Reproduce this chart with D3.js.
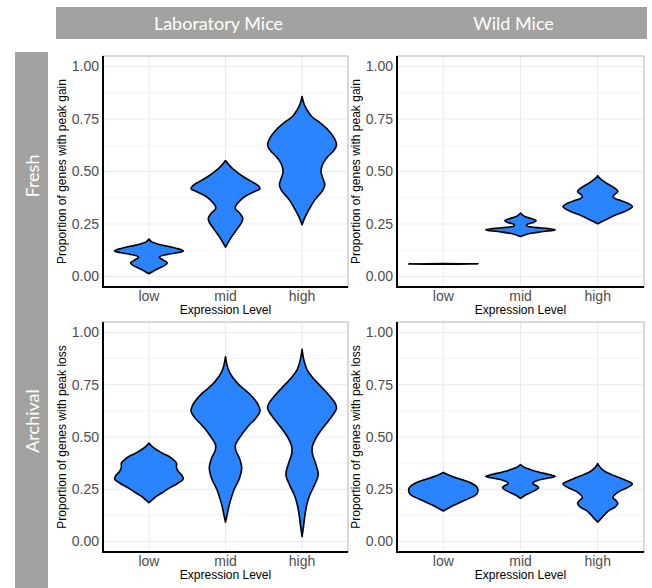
<!DOCTYPE html>
<html>
<head>
<meta charset="utf-8">
<script src="https://d3js.org/d3.v7.min.js"></script>
<style>
  body { margin: 0; background: #fff; }
  svg { display: block; }
</style>
</head>
<body>
<svg id="chart"></svg>
<script>
  // facet labels and axis text
  var categories = ['low', 'mid', 'high']
  var columns = ['Laboratory Mice', 'Wild Mice']
  var rows = ['Fresh', 'Archival']
  var yTicks = [0, 0.25, 0.5, 0.75, 1]
  var yMinor = [0.125, 0.375, 0.625, 0.875]
  var yTitles = ['Proportion of genes with peak gain', 'Proportion of genes with peak loss']
  var xTitle = 'Expression Level'

  // violin outlines: [proportion, relative half width]
  var labFreshLow = [[0.013,0],[0.032,0.2],[0.056,0.49],[0.065,0.53],[0.081,0.39],[0.092,0.3],[0.105,0.53],[0.113,0.82],[0.122,1],[0.135,0.78],[0.145,0.5],[0.155,0.25],[0.165,0.08],[0.178,0]]
  var labFreshMid = [[0.14,0],[0.16,0.07],[0.183,0.15],[0.222,0.32],[0.255,0.46],[0.278,0.5],[0.3,0.42],[0.326,0.28],[0.349,0.35],[0.381,0.56],[0.405,0.85],[0.418,1],[0.435,0.93],[0.452,0.76],[0.475,0.52],[0.492,0.37],[0.515,0.2],[0.535,0.08],[0.552,0]]
  var labFreshHigh = [[0.246,0],[0.28,0.08],[0.318,0.2],[0.365,0.37],[0.41,0.6],[0.437,0.66],[0.47,0.6],[0.5,0.55],[0.535,0.6],[0.571,0.75],[0.6,0.92],[0.627,1],[0.66,0.93],[0.699,0.75],[0.735,0.5],[0.762,0.28],[0.794,0.14],[0.825,0.05],[0.857,0]]
  var wildFreshLow = [[0.0585,0],[0.06,1],[0.0615,0]]
  var wildFreshMid = [[0.19,0],[0.198,0.12],[0.206,0.3],[0.214,0.65],[0.222,1],[0.228,0.8],[0.234,0.4],[0.241,0.18],[0.249,0.2],[0.258,0.38],[0.266,0.45],[0.275,0.32],[0.285,0.14],[0.294,0.05],[0.302,0]]
  var wildFreshHigh = [[0.251,0],[0.27,0.23],[0.294,0.53],[0.315,0.85],[0.333,1],[0.349,0.87],[0.365,0.6],[0.378,0.44],[0.39,0.48],[0.405,0.58],[0.42,0.5],[0.445,0.25],[0.465,0.08],[0.48,0]]
  var labArchLow = [[0.186,0],[0.2,0.1],[0.217,0.22],[0.237,0.42],[0.257,0.6],[0.28,0.85],[0.3,1],[0.318,0.95],[0.336,0.85],[0.355,0.8],[0.375,0.8],[0.395,0.68],[0.408,0.57],[0.42,0.42],[0.431,0.3],[0.45,0.12],[0.471,0]]
  var labArchMid = [[0.093,0],[0.13,0.05],[0.17,0.1],[0.21,0.17],[0.249,0.25],[0.3,0.4],[0.352,0.47],[0.4,0.4],[0.435,0.3],[0.463,0.29],[0.5,0.42],[0.55,0.65],[0.59,0.88],[0.622,1],[0.65,0.96],[0.678,0.85],[0.705,0.7],[0.725,0.56],[0.76,0.33],[0.805,0.13],[0.84,0.05],[0.884,0]]
  var labArchHigh = [[0.024,0],[0.07,0.04],[0.122,0.08],[0.17,0.13],[0.217,0.21],[0.27,0.36],[0.32,0.47],[0.37,0.4],[0.42,0.3],[0.455,0.3],[0.5,0.42],[0.543,0.6],[0.6,0.87],[0.638,1],[0.665,0.95],[0.686,0.85],[0.715,0.7],[0.741,0.55],[0.78,0.33],[0.82,0.15],[0.87,0.05],[0.919,0]]
  var wildArchLow = [[0.146,0],[0.17,0.26],[0.2,0.65],[0.225,0.95],[0.245,1],[0.26,0.97],[0.275,0.85],[0.284,0.75],[0.295,0.55],[0.305,0.36],[0.318,0.15],[0.331,0]]
  var wildArchMid = [[0.206,0],[0.22,0.12],[0.233,0.28],[0.245,0.42],[0.257,0.52],[0.268,0.45],[0.278,0.35],[0.295,0.55],[0.305,0.85],[0.312,1],[0.322,0.8],[0.329,0.6],[0.337,0.4],[0.344,0.28],[0.356,0.1],[0.368,0]]
  var wildArchHigh = [[0.093,0],[0.114,0.12],[0.146,0.3],[0.165,0.5],[0.182,0.58],[0.197,0.52],[0.21,0.44],[0.225,0.5],[0.241,0.63],[0.26,0.88],[0.276,1],[0.29,0.85],[0.305,0.63],[0.32,0.4],[0.336,0.2],[0.355,0.07],[0.373,0]]

  var violins = [
    [[labFreshLow, labFreshMid, labFreshHigh], [wildFreshLow, wildFreshMid, wildFreshHigh]],
    [[labArchLow, labArchMid, labArchHigh], [wildArchLow, wildArchMid, wildArchHigh]]
  ]

  var width = 652, height = 588
  var colX = [[103, 348], [397, 644]]
  var rowY = [[56, 287], [322, 552]]
  var fill = '#2b84ff'
  var stripGrey = '#a3a2a0'

  var svg = d3.select('#chart').attr('width', width).attr('height', height)

  // strips
  svg.append('rect').attr('x', 56).attr('y', 7).attr('width', 591).attr('height', 32).attr('fill', stripGrey)
  svg.append('rect').attr('x', 15).attr('y', 52).attr('width', 33).attr('height', 540).attr('fill', stripGrey)
  svg.selectAll('text.colstrip').data(columns).enter().append('text')
      .attr('class', 'colstrip')
      .attr('x', function (d, i) {return (colX[i][0] + colX[i][1]) / 2 - 7})
      .attr('y', 30)
      .attr('text-anchor', 'middle')
      .style('font-family', 'Lato, "Open Sans", sans-serif').style('font-size', '18px')
      .attr('fill', '#fff')
      .text(function (d) {return d})
  var rowLabelY = [176, 421]
  svg.selectAll('text.rowstrip').data(rows).enter().append('text')
      .attr('class', 'rowstrip')
      .attr('transform', function (d, i) {return 'translate(39,' + rowLabelY[i] + ') rotate(-90)'})
      .attr('text-anchor', 'middle')
      .style('font-family', 'Lato, "Open Sans", sans-serif').style('font-size', '18px')
      .attr('fill', '#fff')
      .text(function (d) {return d})

  for (var r = 0; r < 2; r++) {
    for (var c = 0; c < 2; c++) {
      var x0 = colX[c][0], x1 = colX[c][1], y0 = rowY[r][0], y1 = rowY[r][1]
      var x = d3.scalePoint().domain(categories).range([x0, x1]).padding(0.6)
      var y = d3.scaleLinear().domain([-0.05, 1.05]).range([y1, y0])
      var half = x.step() * 0.45
      var g = svg.append('g')

      // grid
      g.selectAll('line.minor').data(yMinor).enter().append('line')
          .attr('x1', x0).attr('x2', x1)
          .attr('y1', function (d) {return y(d)}).attr('y2', function (d) {return y(d)})
          .style('stroke', '#f4f4f4').style('stroke-width', 1)
      g.selectAll('line.major').data(yTicks).enter().append('line')
          .attr('x1', x0).attr('x2', x1)
          .attr('y1', function (d) {return y(d)}).attr('y2', function (d) {return y(d)})
          .style('stroke', '#ebebeb').style('stroke-width', 1)
      g.selectAll('line.vgrid').data(categories).enter().append('line')
          .attr('x1', function (d) {return x(d)}).attr('x2', function (d) {return x(d)})
          .attr('y1', y0).attr('y2', y1)
          .style('stroke', '#ebebeb').style('stroke-width', 1)

      // panel border (grey top/right), axis lines black
      g.append('rect').attr('x', x0).attr('y', y0).attr('width', x1 - x0).attr('height', y1 - y0)
          .attr('fill', 'none').style('stroke', '#b3b3b3').style('stroke-width', 1)

      // violins
      violins[r][c].forEach(function (prof, i) {
        var cx = x(categories[i])
        var area = d3.area()
            .x0(function (d) {return cx - d[1] * half})
            .x1(function (d) {return cx + d[1] * half})
            .y(function (d) {return y(d[0])})
            .curve(d3.curveCatmullRom.alpha(0.5))
        g.append('path').datum(prof).attr('d', area)
            .attr('fill', fill).style('stroke', '#000').style('stroke-width', 1.6)
            .style('stroke-linejoin', 'round')
      })

      g.append('line').attr('x1', x0).attr('x2', x0).attr('y1', y0).attr('y2', y1 + 1)
          .style('stroke', '#000').style('stroke-width', 2)
      g.append('line').attr('x1', x0 - 1).attr('x2', x1).attr('y1', y1).attr('y2', y1)
          .style('stroke', '#000').style('stroke-width', 2)

      // tick labels
      g.selectAll('text.ytick').data(yTicks).enter().append('text')
          .attr('x', x0 - 4).attr('y', function (d) {return y(d)}).attr('dy', '0.35em')
          .attr('text-anchor', 'end')
          .style('font-family', '"Liberation Sans", Arial, sans-serif').style('font-size', '14px')
          .attr('fill', '#4d4d4d')
          .text(function (d) {return d3.format('.2f')(d)})
      g.selectAll('text.xtick').data(categories).enter().append('text')
          .attr('x', function (d) {return x(d)}).attr('y', y1 + 14)
          .attr('text-anchor', 'middle')
          .style('font-family', '"Liberation Sans", Arial, sans-serif').style('font-size', '14px')
          .attr('fill', '#4d4d4d')
          .text(function (d) {return d})

      // axis titles
      g.append('text').attr('x', (x0 + x1) / 2).attr('y', y1 + 27)
          .attr('text-anchor', 'middle')
          .style('font-family', '"Liberation Sans", Arial, sans-serif').style('font-size', '12px')
          .attr('fill', '#000').text(xTitle)
      g.append('text')
          .attr('transform', 'translate(' + (x0 - 37) + ',' + ((y0 + y1) / 2) + ') rotate(-90)')
          .attr('text-anchor', 'middle')
          .style('font-family', '"Liberation Sans", Arial, sans-serif').style('font-size', '12px')
          .attr('fill', '#000').text(yTitles[r])
    }
  }
</script>
</body>
</html>
